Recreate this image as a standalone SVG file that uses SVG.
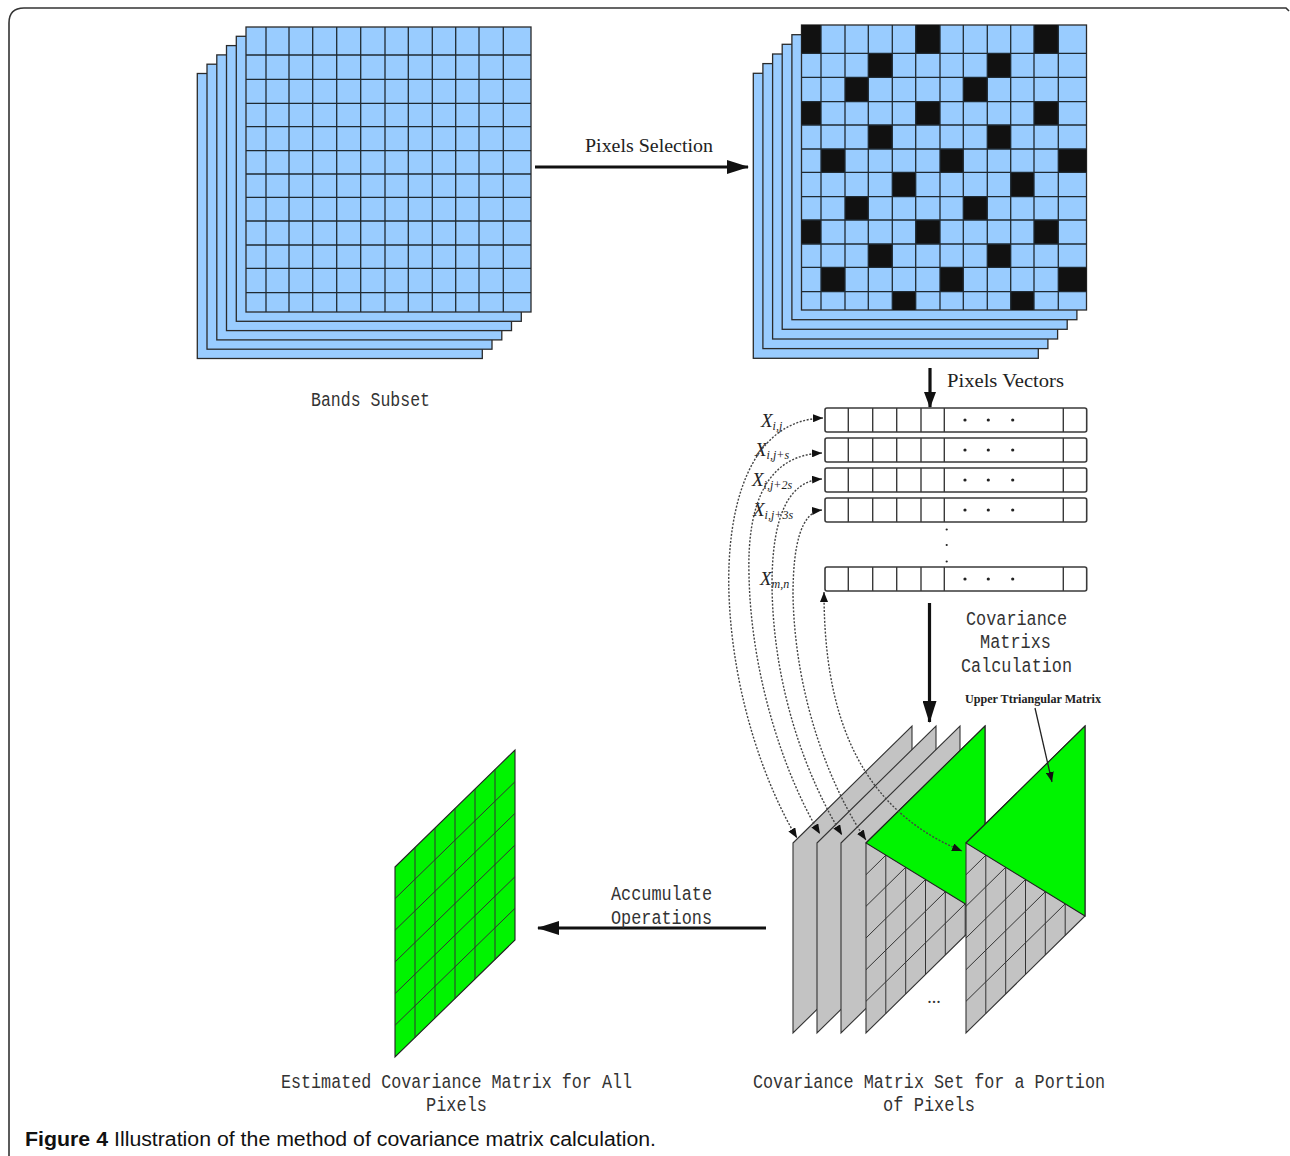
<svg xmlns="http://www.w3.org/2000/svg" width="1290" height="1156" viewBox="0 0 1290 1156">
<style>
.bl{fill:#99CCFF;stroke:#2a2a2a;stroke-width:1.3}
.gl{fill:none;stroke:#1f2a33;stroke-width:1.3}
.blk{fill:#111}
.vec{fill:#fff;stroke:#3a3a3a;stroke-width:1.6}
.sep{stroke:#3a3a3a;stroke-width:1.4}
.pl{fill:#C3C3C3;stroke:#333;stroke-width:1.1}
.grn{fill:#00F400;stroke:#222;stroke-width:1.1}
.pg{fill:none;stroke:#333;stroke-width:1}
.mono{font-family:"Liberation Mono","DejaVu Sans Mono",monospace;font-size:20px;fill:#333}
.ser{font-family:"Liberation Serif","Times New Roman",serif;fill:#222}
.big{stroke:#111;stroke-width:3.2;fill:none}
.arc{fill:none;stroke:#444;stroke-width:1.4;stroke-dasharray:2 1.6}
.cap{font-family:"Liberation Sans",Arial,sans-serif;font-size:20px;fill:#111}
</style>
<defs>
<marker id="bigHead" viewBox="0 0 22 14" refX="21" refY="7" markerWidth="22" markerHeight="14" markerUnits="userSpaceOnUse" orient="auto"><path d="M0,0 L22,7 L0,14 z" fill="#111"/></marker>
<marker id="midHead" viewBox="0 0 16 12" refX="15" refY="6" markerWidth="16" markerHeight="12" markerUnits="userSpaceOnUse" orient="auto"><path d="M0,0 L16,6 L0,12 z" fill="#111"/></marker>
<marker id="smHead" viewBox="0 0 10 8" refX="10" refY="4" markerWidth="10" markerHeight="8" markerUnits="userSpaceOnUse" orient="auto-start-reverse"><path d="M0,0 L10,4 L0,8 z" fill="#111"/></marker>
</defs>
<rect width="1290" height="1156" fill="#fff"/>
<path d="M9,1156 L9,23 Q9,8 24,8 L1286,8 L1289,11" fill="none" stroke="#333" stroke-width="1.6"/>

<g id="bands-subset">
<rect class="bl" x="197.3" y="73.5" width="285" height="285"/>
<rect class="bl" x="207" y="64.2" width="285" height="285"/>
<rect class="bl" x="216.8" y="54.9" width="285" height="285"/>
<rect class="bl" x="226.5" y="45.6" width="285" height="285"/>
<rect class="bl" x="236.3" y="36.3" width="285" height="285"/>
<rect class="bl" x="246" y="27" width="285" height="285"/>
<path class="gl" d="M266,27V312M289,27V312M312.7,27V312M336.7,27V312M360.7,27V312M385,27V312M408.3,27V312M432.3,27V312M455.7,27V312M479,27V312M503.3,27V312M246,55H531M246,79.3H531M246,103.3H531M246,126.7H531M246,150.7H531M246,174H531M246,197.3H531M246,221H531M246,245H531M246,268.3H531M246,292.7H531"/>
<text class="mono" x="311" y="406" textLength="119" lengthAdjust="spacingAndGlyphs">Bands Subset</text>
</g>

<g id="selected-pixels">
<rect class="bl" x="753.3" y="73.3" width="285" height="285"/>
<rect class="bl" x="762.9" y="63.6" width="285" height="285"/>
<rect class="bl" x="772.6" y="54" width="285" height="285"/>
<rect class="bl" x="782.2" y="44.3" width="285" height="285"/>
<rect class="bl" x="791.9" y="34.7" width="285" height="285"/>
<rect class="bl" x="801.5" y="25" width="285" height="285"/>
<g class="blk">
<rect x="801.5" y="25" width="19.5" height="28.3"/><rect x="915.7" y="25" width="24.3" height="28.3"/><rect x="1034" y="25" width="24.3" height="28.3"/>
<rect x="868.3" y="53.3" width="24" height="24"/><rect x="987.3" y="53.3" width="23.4" height="24"/>
<rect x="845" y="77.3" width="23.3" height="24.4"/><rect x="963.3" y="77.3" width="24" height="24.4"/>
<rect x="801.5" y="101.7" width="19.5" height="23.3"/><rect x="915.7" y="101.7" width="24.3" height="23.3"/><rect x="1034" y="101.7" width="24.3" height="23.3"/>
<rect x="868.3" y="125" width="24" height="24"/><rect x="987.3" y="125" width="23.4" height="24"/>
<rect x="821" y="149" width="24" height="23.3"/><rect x="940" y="149" width="23.3" height="23.3"/><rect x="1058.3" y="149" width="28.2" height="23.3"/>
<rect x="892.3" y="172.3" width="23.4" height="24.4"/><rect x="1010.7" y="172.3" width="23.3" height="24.4"/>
<rect x="845" y="196.7" width="23.3" height="23.3"/><rect x="963.3" y="196.7" width="24" height="23.3"/>
<rect x="801.5" y="220" width="19.5" height="24"/><rect x="915.7" y="220" width="24.3" height="24"/><rect x="1034" y="220" width="24.3" height="24"/>
<rect x="868.3" y="244" width="24" height="23.3"/><rect x="987.3" y="244" width="23.4" height="23.3"/>
<rect x="821" y="267.3" width="24" height="24.4"/><rect x="940" y="267.3" width="23.3" height="24.4"/><rect x="1058.3" y="267.3" width="28.2" height="24.4"/>
<rect x="892.3" y="291.7" width="23.4" height="18.3"/><rect x="1010.7" y="291.7" width="23.3" height="18.3"/>
</g>
<path class="gl" d="M821,25V310M845,25V310M868.3,25V310M892.3,25V310M915.7,25V310M940,25V310M963.3,25V310M987.3,25V310M1010.7,25V310M1034,25V310M1058.3,25V310M801.5,53.3H1086.5M801.5,77.3H1086.5M801.5,101.7H1086.5M801.5,125H1086.5M801.5,149H1086.5M801.5,172.3H1086.5M801.5,196.7H1086.5M801.5,220H1086.5M801.5,244H1086.5M801.5,267.3H1086.5M801.5,291.7H1086.5"/>
</g>

<g id="pixel-vectors">
<rect class="vec" x="825" y="408" width="261.7" height="24" rx="2"/>
<rect class="vec" x="825" y="438" width="261.7" height="24" rx="2"/>
<rect class="vec" x="825" y="468" width="261.7" height="24" rx="2"/>
<rect class="vec" x="825" y="498" width="261.7" height="24" rx="2"/>
<rect class="vec" x="825" y="567" width="261.7" height="24" rx="2"/>
<path class="sep" d="M848.3,408v24M872.7,408v24M896.7,408v24M921,408v24M944.3,408v24M1063.3,408v24M848.3,438v24M872.7,438v24M896.7,438v24M921,438v24M944.3,438v24M1063.3,438v24M848.3,468v24M872.7,468v24M896.7,468v24M921,468v24M944.3,468v24M1063.3,468v24M848.3,498v24M872.7,498v24M896.7,498v24M921,498v24M944.3,498v24M1063.3,498v24M848.3,567v24M872.7,567v24M896.7,567v24M921,567v24M944.3,567v24M1063.3,567v24"/>
<g fill="#222">
<circle cx="965" cy="420" r="1.6"/><circle cx="988.3" cy="420" r="1.6"/><circle cx="1012.7" cy="420" r="1.6"/>
<circle cx="965" cy="450" r="1.6"/><circle cx="988.3" cy="450" r="1.6"/><circle cx="1012.7" cy="450" r="1.6"/>
<circle cx="965" cy="480" r="1.6"/><circle cx="988.3" cy="480" r="1.6"/><circle cx="1012.7" cy="480" r="1.6"/>
<circle cx="965" cy="510" r="1.6"/><circle cx="988.3" cy="510" r="1.6"/><circle cx="1012.7" cy="510" r="1.6"/>
<circle cx="965" cy="579" r="1.6"/><circle cx="988.3" cy="579" r="1.6"/><circle cx="1012.7" cy="579" r="1.6"/>
<circle cx="946.7" cy="529.5" r="1.1"/><circle cx="946.7" cy="545" r="1.1"/><circle cx="946.7" cy="561.5" r="1.1"/>
</g>
<g class="ser" font-style="italic">
<text x="761" y="427" font-size="19">X<tspan font-size="12" dy="3">i,j</tspan></text>
<text x="755" y="456" font-size="19">X<tspan font-size="12" dy="3">i,j+s</tspan></text>
<text x="752" y="486" font-size="19">X<tspan font-size="12" dy="3">i,j+2s</tspan></text>
<text x="753" y="516" font-size="19">X<tspan font-size="12" dy="3">i,j+3s</tspan></text>
<text x="760" y="585" font-size="19">X<tspan font-size="12" dy="3">m,n</tspan></text>
</g>
</g>

<g id="cov-set">
<polygon class="pl" points="793,843 912,726 912,916 793,1033"/>
<polygon class="pl" points="817,843 936,726 936,916 817,1033"/>
<polygon class="pl" points="841,843 960,726 960,916 841,1033"/>
<polygon class="pl" points="866,843 985,726 985,916 866,1033"/>
<path class="pg" d="M885.8,823.5V1013.5M905.7,804V994M925.5,784.5V974.5M945.3,765V955M965.2,745.5V935.5M866,874.7L985,757.7M866,906.3L985,789.3M866,938L985,821M866,969.7L985,852.7M866,1001.3L985,884.3"/>
<polygon class="grn" points="866,843 985,726 985,916"/>
<polygon class="pl" points="966,843 1085,726 1085,916 966,1033"/>
<path class="pg" d="M985.8,823.5V1013.5M1005.7,804V994M1025.5,784.5V974.5M1045.3,765V955M1065.2,745.5V935.5M966,874.7L1085,757.7M966,906.3L1085,789.3M966,938L1085,821M966,969.7L1085,852.7M966,1001.3L1085,884.3"/>
<polygon class="grn" points="966,843 1085,726 1085,916"/>
<text x="934" y="1003" font-family="Liberation Serif,serif" font-size="18" fill="#333" text-anchor="middle">...</text>
<text class="ser" x="965" y="703" font-size="12.5" font-weight="bold" textLength="136" lengthAdjust="spacingAndGlyphs">Upper Ttriangular Matrix</text>
<text class="mono" x="753" y="1088" textLength="352" lengthAdjust="spacingAndGlyphs">Covariance Matrix Set for a Portion</text>
<text class="mono" x="883" y="1111" textLength="92" lengthAdjust="spacingAndGlyphs">of Pixels</text>
</g>

<g id="estimated-matrix">
<polygon class="grn" points="395,867 515,750 515,940 395,1057"/>
<path class="pg" d="M415,847.5V1037.5M435,828V1018M455,808.5V998.5M475,789V979M495,769.5V959.5M395,898.7L515,781.7M395,930.3L515,813.3M395,962L515,845M395,993.7L515,876.7M395,1025.3L515,908.3"/>
<text class="mono" x="281" y="1088" textLength="351" lengthAdjust="spacingAndGlyphs">Estimated Covariance Matrix for All</text>
<text class="mono" x="426" y="1111" textLength="61" lengthAdjust="spacingAndGlyphs">Pixels</text>
</g>

<g id="connectors">
<line class="big" x1="535" y1="167" x2="748" y2="167" marker-end="url(#bigHead)"/>
<text class="ser" x="585" y="152" font-size="18" textLength="128" lengthAdjust="spacingAndGlyphs">Pixels Selection</text>
<line class="big" x1="930" y1="368" x2="930" y2="407" marker-end="url(#midHead)"/>
<text class="ser" x="947" y="387" font-size="18" textLength="117" lengthAdjust="spacingAndGlyphs">Pixels Vectors</text>
<line class="big" x1="929.5" y1="603" x2="929.5" y2="722" marker-end="url(#bigHead)"/>
<text class="mono" x="966" y="625" textLength="101" lengthAdjust="spacingAndGlyphs">Covariance</text>
<text class="mono" x="980" y="648" textLength="71" lengthAdjust="spacingAndGlyphs">Matrixs</text>
<text class="mono" x="961" y="672" textLength="111" lengthAdjust="spacingAndGlyphs">Calculation</text>
<line class="big" x1="766" y1="928" x2="538" y2="928" marker-end="url(#bigHead)"/>
<text class="mono" x="611" y="900" textLength="101" lengthAdjust="spacingAndGlyphs">Accumulate</text>
<text class="mono" x="611" y="924" textLength="101" lengthAdjust="spacingAndGlyphs">Operations</text>
<line x1="1035" y1="708" x2="1052" y2="782" stroke="#222" stroke-width="1.3" marker-end="url(#smHead)"/>
<path class="arc" d="M823,418 C748,420 726,510 729,595 C733,700 768,790 797,838" marker-start="url(#smHead)" marker-end="url(#smHead)"/>
<path class="arc" d="M822,453 C766,455 747,505 749,575 C751,680 787,780 820,834" marker-start="url(#smHead)" marker-end="url(#smHead)"/>
<path class="arc" d="M822,479 C789,481 772,515 772,585 C773,690 808,780 842,835" marker-start="url(#smHead)" marker-end="url(#smHead)"/>
<path class="arc" d="M822,510 C801,512 793,545 793,595 C795,700 832,790 866,840" marker-start="url(#smHead)" marker-end="url(#smHead)"/>
<path class="arc" d="M824,592 C824,700 850,805 962,851" marker-start="url(#smHead)" marker-end="url(#smHead)"/>
</g>

<text class="cap" x="25" y="1146" font-weight="bold" textLength="83" lengthAdjust="spacingAndGlyphs">Figure 4</text>
<text class="cap" x="114" y="1146" textLength="542" lengthAdjust="spacingAndGlyphs">Illustration of the method of covariance matrix calculation.</text>
</svg>
